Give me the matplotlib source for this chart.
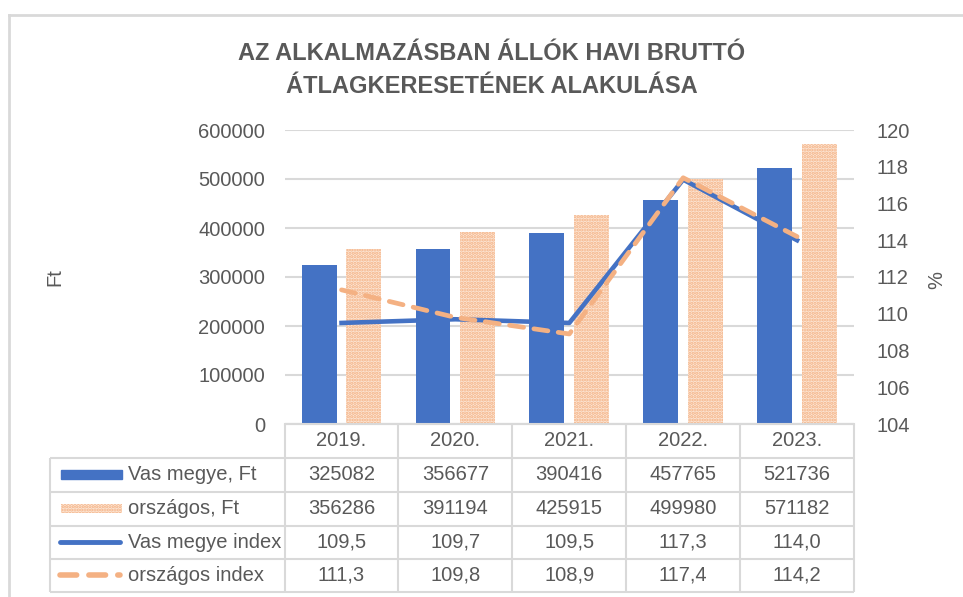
import matplotlib.pyplot as plt
import numpy as np
from matplotlib.patches import Rectangle

years = ["2019.", "2020.", "2021.", "2022.", "2023."]
vas_ft = [325082, 356677, 390416, 457765, 521736]
orsz_ft = [356286, 391194, 425915, 499980, 571182]
vas_index = [109.5, 109.7, 109.5, 117.3, 114.0]
orsz_index = [111.3, 109.8, 108.9, 117.4, 114.2]
series_names = ["Vas megye, Ft", "országos, Ft", "Vas megye index", "országos index"]

BLUE = "#4472C4"
ORANGE = "#F4B183"
PEACH = "#FCE6D6"
GRID = "#D9D9D9"
TXT = "#595959"

plt.rcParams["font.family"] = ["Liberation Sans", "DejaVu Sans"]
plt.rcParams["hatch.linewidth"] = 1.6

W, H = 963, 597
fig = plt.figure(figsize=(W / 100, H / 100), dpi=100)

# overlay in pixel coords for title, frame and data table
ov = fig.add_axes([0, 0, 1, 1], zorder=0)
ov.set_xlim(0, W)
ov.set_ylim(H, 0)
ov.set_axis_off()

# plot area (pixels)
pl, pr, pt, pb = 284.6, 854, 130, 424
ax = fig.add_axes([pl / W, 1 - pb / H, (pr - pl) / W, (pb - pt) / H], zorder=1)
ax.patch.set_alpha(0)

x = np.arange(len(years))
bw = 0.307
off = 0.197
ax.bar(x - off, vas_ft, bw, color=BLUE, zorder=2)
ax.bar(x + off, orsz_ft, bw, facecolor=PEACH, edgecolor=ORANGE,
       hatch=".....", linewidth=0, zorder=2)
ax.set_xlim(-0.5, len(years) - 0.5)
ax.set_ylim(0, 600000)
ax.set_yticks(range(0, 600001, 100000))
ax.grid(axis="y", color=GRID, lw=1.5)
ax.set_axisbelow(True)
ax.set_xticks([])
for s in ["top", "right", "left"]:
    ax.spines[s].set_visible(False)
ax.spines["bottom"].set_color(GRID)
ax.spines["bottom"].set_linewidth(1.5)
ax.tick_params(axis="y", length=0, pad=14, labelsize=14.5, labelcolor=TXT)

ax2 = ax.twinx()
ax2.plot(x, vas_index, color=BLUE, lw=3.3, zorder=3)
ax2.plot(x, orsz_index, color=ORANGE, lw=3.4, dashes=(3, 2.2),
         dash_capstyle="round", zorder=4)
ax2.set_ylim(104, 120)
ax2.set_yticks(range(104, 121, 2))
for s in ax2.spines.values():
    s.set_visible(False)
ax2.tick_params(axis="y", length=0, pad=16, labelsize=14.5, labelcolor=TXT)

# chart frame
ov.plot([8.5, W], [14.5, 14.5], color=GRID, lw=2)
ov.plot([8.5, 8.5], [14.5, H], color=GRID, lw=2)

# title
ov.text(492, 60, "AZ ALKALMAZÁSBAN ÁLLÓK HAVI BRUTTÓ", ha="center", va="baseline",
        fontsize=17, fontweight="bold", color=TXT)
ov.text(492, 93, "ÁTLAGKERESETÉNEK ALAKULÁSA", ha="center", va="baseline",
        fontsize=17, fontweight="bold", color=TXT)

# axis titles
ov.text(55, 277, "Ft", rotation=90, ha="center", va="center", fontsize=14.5, color=TXT)
ov.text(937, 280, "%", rotation=90, ha="center", va="center", fontsize=14.5, color=TXT)

# data table
col_edges = pl + np.arange(len(years) + 1) * (pr - pl) / len(years)
row_edges = [424, 457.5, 491.5, 525.5, 558.5, 592]
tab_left = 50
lk = dict(color=GRID, lw=1.5, solid_capstyle="butt")
ov.plot([pl, pr], [row_edges[0]] * 2, **lk)
for y in row_edges[1:]:
    ov.plot([tab_left, pr], [y, y], **lk)
ov.plot([tab_left, tab_left], [row_edges[1], row_edges[-1]], **lk)
for cx in col_edges:
    ov.plot([cx, cx], [row_edges[0], row_edges[-1]], **lk)

centers = [(a + b) / 2 for a, b in zip(col_edges[:-1], col_edges[1:])]
rc = [(a + b) / 2 for a, b in zip(row_edges[:-1], row_edges[1:])]
for cx, yr in zip(centers, years):
    ov.text(cx, rc[0], yr, ha="center", va="center", fontsize=14.5, color=TXT)

rows = [
    [str(v) for v in vas_ft],
    [str(v) for v in orsz_ft],
    [f"{v:.1f}".replace(".", ",") for v in vas_index],
    [f"{v:.1f}".replace(".", ",") for v in orsz_index],
]
for i, (name, vals) in enumerate(zip(series_names, rows)):
    y = rc[i + 1]
    ov.text(128, y, name, ha="left", va="center", fontsize=14.5, color=TXT)
    for cx, v in zip(centers, vals):
        ov.text(cx, y, v, ha="center", va="center", fontsize=14.5, color=TXT)

# legend keys
ov.add_patch(Rectangle((61, rc[1] - 4.5), 61, 9, color=BLUE))
ov.add_patch(Rectangle((61, rc[2] - 4.5), 61, 9, facecolor=PEACH, edgecolor=ORANGE,
                       hatch=".....", linewidth=0))
ov.plot([60, 120], [rc[3], rc[3]], color=BLUE, lw=3.5, solid_capstyle="round")
ov.plot([60, 120], [rc[4], rc[4]], color=ORANGE, lw=4, dashes=(3, 2.2),
        dash_capstyle="round")

fig.savefig("out.png", dpi=100)
